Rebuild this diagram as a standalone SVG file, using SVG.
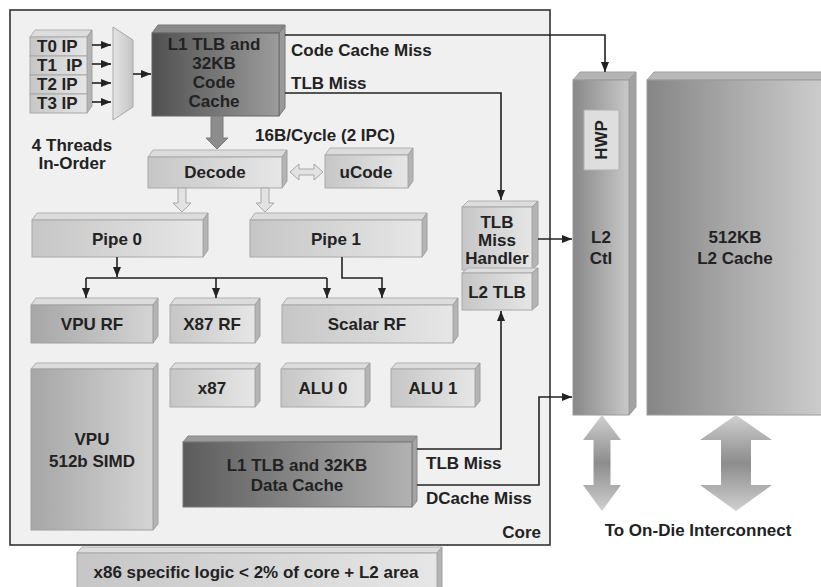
<svg xmlns="http://www.w3.org/2000/svg" width="821" height="587" viewBox="0 0 821 587">
<style>
text{font-family:"Liberation Sans",Arial,sans-serif;font-weight:bold;font-size:17px;fill:#222}
.c{text-anchor:middle}
.f{fill:url(#gF);stroke:#a8a8a8;stroke-width:1}
.fv{fill:url(#gV);stroke:#a0a0a0;stroke-width:1}
.t{fill:#dcdcdc;stroke:#b0b0b0;stroke-width:1}
.s{fill:#b4b4b4;stroke:#a0a0a0;stroke-width:1}
.ln{fill:none;stroke:#222;stroke-width:1.6}
.ar{fill:none;stroke:#222;stroke-width:1.6;marker-end:url(#ah)}
.ha{fill:#e2e2e2;stroke:#a8a8a8;stroke-width:1}
</style>
<defs>
<linearGradient id="gF" x1="0" y1="0" x2="1" y2="0"><stop offset="0" stop-color="#c6c6c6"/><stop offset="1" stop-color="#e6e6e6"/></linearGradient>
<linearGradient id="gV" x1="0" y1="0" x2="1" y2="0"><stop offset="0" stop-color="#a6a6a6"/><stop offset="1" stop-color="#d4d4d4"/></linearGradient>
<linearGradient id="gD" x1="0" y1="0" x2="1" y2="0"><stop offset="0" stop-color="#505050"/><stop offset="1" stop-color="#9c9c9c"/></linearGradient>
<linearGradient id="gD2" x1="0" y1="0" x2="1" y2="0"><stop offset="0" stop-color="#5c5c5c"/><stop offset="1" stop-color="#b2b2b2"/></linearGradient>
<linearGradient id="gL" x1="0" y1="0" x2="1" y2="0"><stop offset="0" stop-color="#888"/><stop offset="1" stop-color="#c8c8c8"/></linearGradient>
<linearGradient id="gC" x1="0" y1="0" x2="1" y2="0"><stop offset="0" stop-color="#868686"/><stop offset="1" stop-color="#d2d2d2"/></linearGradient>
<linearGradient id="gA" x1="0" y1="0" x2="0" y2="1"><stop offset="0" stop-color="#d0d0d0"/><stop offset="0.5" stop-color="#8c8c8c"/><stop offset="1" stop-color="#d0d0d0"/></linearGradient>
<linearGradient id="gM" x1="0" y1="0" x2="1" y2="0"><stop offset="0" stop-color="#e4e4e4"/><stop offset="1" stop-color="#c4c4c4"/></linearGradient>
<marker id="ah" markerUnits="userSpaceOnUse" markerWidth="10" markerHeight="8" refX="10" refY="4" orient="auto"><path d="M0,0 L10,4 L0,8 z" fill="#222"/></marker>
</defs>

<g id="core">
<rect x="10" y="10" width="540" height="535" fill="#f0f0f0" stroke="#333" stroke-width="1.6"/>
<text x="541" y="538" style="text-anchor:end">Core</text>
</g>

<g id="thread-ips">
<polygon class="t" points="30,37 35,30 92,30 87,37"/>
<polygon class="s" points="87,37 92,30 92,106 87,113"/>
<rect class="f" x="30" y="37" width="57" height="19"/>
<rect class="f" x="30" y="56" width="57" height="19"/>
<rect class="f" x="30" y="75" width="57" height="19"/>
<rect class="f" x="30" y="94" width="57" height="19"/>
<text x="37" y="52">T0 IP</text>
<text x="37" y="71" style="white-space:pre">T1  IP</text>
<text x="37" y="90">T2 IP</text>
<text x="37" y="109">T3 IP</text>
<text class="c" x="72" y="151">4 Threads</text>
<text class="c" x="72" y="169">In-Order</text>
</g>

<g id="mux">
<polygon points="113,27 133,40 133,107 113,120" fill="url(#gM)" stroke="#a8a8a8"/>
</g>

<g id="code-cache">
<polygon points="152,33 158,25 285,25 279,33" fill="#8a8a8a" stroke="#777"/>
<polygon points="279,33 285,25 285,108 279,116" fill="#9a9a9a" stroke="#777"/>
<rect x="152" y="33" width="127" height="83" fill="url(#gD)" stroke="#666"/>
<text class="c" x="214" y="50">L1 TLB and</text>
<text class="c" x="214" y="69">32KB</text>
<text class="c" x="214" y="88">Code</text>
<text class="c" x="214" y="107">Cache</text>
</g>

<g id="decode">
<polygon class="t" points="148,157 153,150 287,150 282,157"/>
<polygon class="s" points="282,157 287,150 287,181 282,188"/>
<rect class="f" x="148" y="157" width="134" height="31"/>
<text class="c" x="215" y="178">Decode</text>
</g>

<g id="ucode">
<polygon class="t" points="325,155 330,148 413,148 408,155"/>
<polygon class="s" points="408,155 413,148 413,181 408,188"/>
<rect class="f" x="325" y="155" width="83" height="33"/>
<text class="c" x="366" y="178">uCode</text>
</g>

<g id="pipe0">
<polygon class="t" points="32,220 37,213 208,213 203,220"/>
<polygon class="s" points="203,220 208,213 208,250 203,257"/>
<rect class="f" x="32" y="220" width="171" height="37"/>
<text class="c" x="117" y="245">Pipe 0</text>
</g>

<g id="pipe1">
<polygon class="t" points="250,220 255,213 427,213 422,220"/>
<polygon class="s" points="422,220 427,213 427,250 422,257"/>
<rect class="f" x="250" y="220" width="172" height="37"/>
<text class="c" x="336" y="245">Pipe 1</text>
</g>

<g id="vpu-rf">
<polygon class="t" points="31,305 36,298 158,298 153,305"/>
<polygon class="s" points="153,305 158,298 158,336 153,343"/>
<rect class="fv" x="31" y="305" width="122" height="38"/>
<text class="c" x="92" y="330">VPU RF</text>
</g>

<g id="x87-rf">
<polygon class="t" points="170,305 175,298 260,298 255,305"/>
<polygon class="s" points="255,305 260,298 260,336 255,343"/>
<rect class="f" x="170" y="305" width="85" height="38"/>
<text class="c" x="212" y="330">X87 RF</text>
</g>

<g id="scalar-rf">
<polygon class="t" points="282,305 287,298 458,298 453,305"/>
<polygon class="s" points="453,305 458,298 458,336 453,343"/>
<rect class="f" x="282" y="305" width="171" height="38"/>
<text class="c" x="367" y="330">Scalar RF</text>
</g>

<g id="tlb-miss-handler">
<polygon class="t" points="462,207 468,201 538,201 532,207"/>
<polygon class="s" points="532,207 538,201 538,264 532,270"/>
<rect class="f" x="462" y="207" width="70" height="63"/>
<text class="c" x="497" y="228">TLB</text>
<text class="c" x="497" y="246">Miss</text>
<text class="c" x="497" y="264">Handler</text>
</g>

<g id="l2-tlb">
<polygon class="t" points="462,273 468,268 538,268 532,273"/>
<polygon class="s" points="532,273 538,268 538,305 532,310"/>
<rect class="f" x="462" y="273" width="70" height="37"/>
<text class="c" x="497" y="298">L2 TLB</text>
</g>

<g id="vpu">
<polygon class="t" points="31,369 36,363 158,363 153,369"/>
<polygon class="s" points="153,369 158,363 158,524 153,530"/>
<rect class="fv" x="31" y="369" width="122" height="161"/>
<text class="c" x="92" y="445">VPU</text>
<text class="c" x="92" y="467">512b SIMD</text>
</g>

<g id="x87">
<polygon class="t" points="170,369 175,363 260,363 255,369"/>
<polygon class="s" points="255,369 260,363 260,401 255,407"/>
<rect class="f" x="170" y="369" width="85" height="38"/>
<text class="c" x="212" y="394">x87</text>
</g>

<g id="alu0">
<polygon class="t" points="281,369 286,363 370,363 365,369"/>
<polygon class="s" points="365,369 370,363 370,401 365,407"/>
<rect class="f" x="281" y="369" width="84" height="38"/>
<text class="c" x="323" y="394">ALU 0</text>
</g>

<g id="alu1">
<polygon class="t" points="391,369 396,363 480,363 475,369"/>
<polygon class="s" points="475,369 480,363 480,401 475,407"/>
<rect class="f" x="391" y="369" width="84" height="38"/>
<text class="c" x="433" y="394">ALU 1</text>
</g>

<g id="data-cache">
<polygon points="183,442 188,436 417,436 412,442" fill="#9a9a9a" stroke="#888"/>
<polygon points="412,442 417,436 417,501 412,507" fill="#a4a4a4" stroke="#888"/>
<rect x="183" y="442" width="229" height="65" fill="url(#gD2)" stroke="#777"/>
<text class="c" x="297" y="471">L1 TLB and 32KB</text>
<text class="c" x="297" y="491">Data Cache</text>
</g>

<g id="x86-logic">
<polygon class="t" points="77,553 82,547 442,547 437,553"/>
<polygon class="s" points="437,553 442,547 442,593 437,600"/>
<rect class="f" x="77" y="553" width="360" height="47"/>
<text class="c" x="256" y="578">x86 specific logic &lt; 2% of core + L2 area</text>
</g>

<g id="l2-ctl">
<polygon points="573,80 580,72 636,72 629,80" fill="#b4b4b4" stroke="#a0a0a0"/>
<polygon points="629,80 636,72 636,407 629,415" fill="#a2a2a2" stroke="#999"/>
<rect x="573" y="80" width="56" height="335" fill="url(#gL)" stroke="#999"/>
<rect x="584" y="110" width="35" height="60" fill="#dedede" stroke="#b0b0b0"/>
<text class="c" transform="translate(607,140) rotate(-90)">HWP</text>
<text class="c" x="601" y="243">L2</text>
<text class="c" x="601" y="264">Ctl</text>
</g>

<g id="l2-cache">
<polygon points="647,80 654,72 830,72 827,80" fill="#b8b8b8" stroke="#a0a0a0"/>
<rect x="647" y="80" width="190" height="335" fill="url(#gC)" stroke="#999"/>
<text class="c" x="735" y="243">512KB</text>
<text class="c" x="735" y="264">L2 Cache</text>
</g>

<g id="interconnect">
<polygon points="602,415 621,440 610.5,440 610.5,485 621,485 602,511 583,485 593.5,485 593.5,440 583,440" fill="url(#gA)"/>
<polygon points="736,415 772,440 751,440 751,485 772,485 736,511 700,485 721,485 721,440 700,440" fill="url(#gA)"/>
<text class="c" x="698" y="536">To On-Die Interconnect</text>
</g>

<g id="connectors">
<path class="ar" d="M92,45 H111"/>
<path class="ar" d="M92,64 H111"/>
<path class="ar" d="M92,83 H111"/>
<path class="ar" d="M92,102 H111"/>
<path class="ar" d="M133,74 H151"/>
<path class="ar" d="M285,35 H605 V72"/>
<text x="291" y="56">Code Cache Miss</text>
<path class="ar" d="M285,93 H501 V200"/>
<text x="291" y="89">TLB Miss</text>
<polygon points="211,116 223,116 223,138 228,138 217,149 206,138 211,138" fill="#8c8c8c" stroke="#7a7a7a"/>
<text x="255" y="141">16B/Cycle (2 IPC)</text>
<polygon class="ha" points="290,172 299,164 299,169 314,169 314,164 323,172 314,180 314,175 299,175 299,180"/>
<polygon class="ha" points="178,188 186,188 186,203 191,203 182,212 173,203 178,203"/>
<polygon class="ha" points="261,188 269,188 269,203 274,203 265,212 256,203 261,203"/>
<path class="ar" d="M117,257 V277"/>
<path class="ln" d="M86,278 H327"/>
<path class="ar" d="M86,278 V298"/>
<path class="ar" d="M216,278 V298"/>
<path class="ar" d="M327,278 V298"/>
<path class="ar" d="M342,257 V278 H382 V298"/>
<path class="ar" d="M538,239 H572"/>
<path class="ar" d="M417,449 H501 V311"/>
<text x="426" y="469">TLB Miss</text>
<path class="ar" d="M417,485 H539 V397 H572"/>
<text x="426" y="504">DCache Miss</text>
</g>
</svg>
